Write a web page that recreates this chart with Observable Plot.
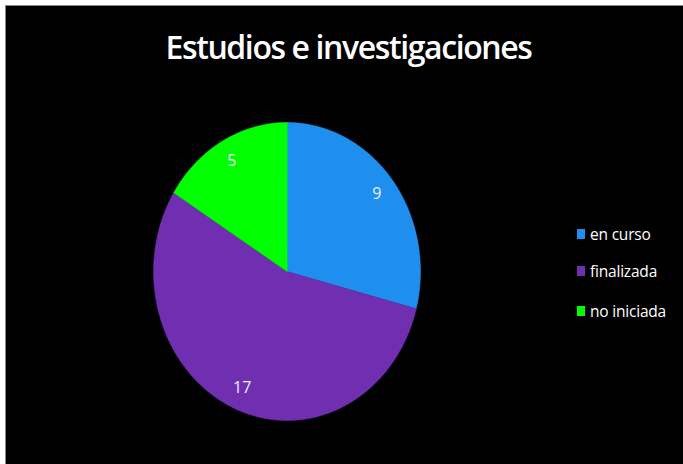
<!DOCTYPE html>
<html><head><meta charset="utf-8">
<script src="https://cdn.jsdelivr.net/npm/d3@7"></script>
<script src="https://cdn.jsdelivr.net/npm/@observablehq/plot@0.6"></script>
<style>
html,body{margin:0;padding:0;background:#fff;width:683px;height:464px;overflow:hidden;}
#frame{position:absolute;left:5px;top:5px;width:678px;height:459px;background:#000;border-left:1px solid #888;border-top:1px solid #888;box-sizing:border-box;}
#title{position:absolute;left:0;width:100%;top:19px;text-align:center;color:#fff;font-family:"Open Sans",sans-serif;font-weight:600;font-size:32px;line-height:1.362;letter-spacing:-1.4px;margin-left:4px;white-space:nowrap;}
#chart{position:absolute;left:0;top:0;}
.leg{position:absolute;left:571px;color:#fff;font-family:"Open Sans",sans-serif;font-size:15.5px;display:flex;align-items:center;letter-spacing:-0.2px;}
.leg span.sw{display:inline-block;width:8px;height:10px;margin-right:5px;}
</style></head>
<body>
<div id="frame">
<div id="title">Estudios e investigaciones</div>
<div id="chart"></div>
<div id="legend"></div>
</div>
<script>
const categories = ["en curso", "finalizada", "no iniciada"];
const values = [9, 17, 5];
const colors = ["#1f8fef", "#6f2fb0", "#00ff00"];

const pie = d3.pie().sort(null).value(d => d.value)(categories.map((c, i) => ({cat: c, value: values[i]})));
const pts = [];
const labels = [];
for (const s of pie) {
  pts.push({cat: s.data.cat, x: 0, y: 0});
  const a0 = s.startAngle, a1 = s.endAngle;
  const n = Math.max(2, Math.ceil((a1 - a0) / (Math.PI / 360)));
  for (let k = 0; k <= n; k++) {
    const a = a0 + (a1 - a0) * k / n;
    pts.push({cat: s.data.cat, x: Math.sin(a), y: Math.cos(a)});
  }
  const m = (a0 + a1) / 2, r = 0.85;
  labels.push({x: r * Math.sin(m), y: r * Math.cos(m), text: String(s.data.value)});
}

const chart = Plot.plot({
  width: 677, height: 458,
  margin: 0,
  style: {background: "transparent"},
  x: {domain: [-1, 1], range: [147, 414], axis: null},
  y: {domain: [-1, 1], range: [414, 116], axis: null},
  color: {domain: categories, range: colors},
  marks: [
    Plot.line(pts, {x: "x", y: "y", z: "cat", fill: "cat", stroke: "cat", strokeWidth: 0.5, curve: "linear-closed"}),
    Plot.text(labels, {x: "x", y: "y", text: "text", fill: "#eeeeff", fontSize: 16, fontFamily: "Open Sans, sans-serif"})
  ]
});
document.getElementById("chart").appendChild(chart);

const legTops = [217, 254, 294];
const leg = document.getElementById("legend");
categories.forEach((c, i) => {
  const d = document.createElement("div");
  d.className = "leg";
  d.style.top = legTops[i] + "px";
  d.innerHTML = `<span class="sw" style="background:${colors[i]}"></span><span>${c}</span>`;
  leg.appendChild(d);
});
</script>
</body></html>
